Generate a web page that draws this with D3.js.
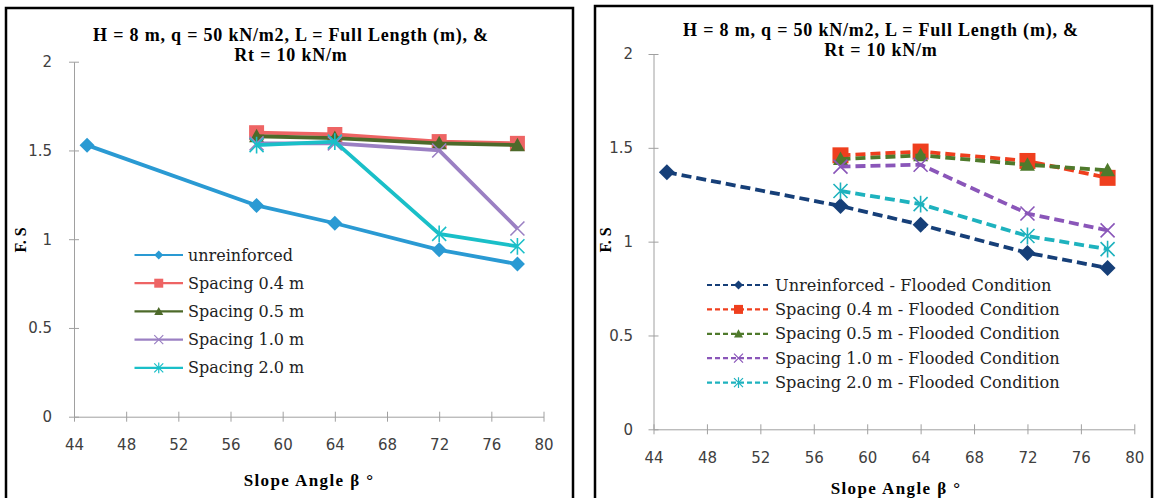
<!DOCTYPE html>
<html>
<head>
<meta charset="utf-8">
<script src="https://cdn.jsdelivr.net/npm/d3@7"></script>
<style>
  body { margin: 0; background: #fff; }
  svg { display: block; }
  .tick text { font-family: "DejaVu Sans", sans-serif; font-size: 15px; fill: #404040; }
  .domain, .tick line { stroke: #a0a0a0; }
</style>
</head>
<body>
<div class="chart"></div>
<script>
/* Main script */

// slope angles (deg)
var angles = [45, 58, 64, 72, 78];
var spacingAngles = [58, 64, 72, 78];
var xTicks = [44, 48, 52, 56, 60, 64, 68, 72, 76, 80];
var yTicks = [0, 0.5, 1, 1.5, 2];

// left chart: normal condition
var dryNames = ["unreinforced", "Spacing 0.4 m", "Spacing 0.5 m", "Spacing 1.0 m", "Spacing 2.0 m"];
var dryUnreinforced = [1.53, 1.19, 1.09, 0.94, 0.86];
var drySp04 = [1.60, 1.59, 1.55, 1.54];
var drySp05 = [1.58, 1.57, 1.54, 1.53];
var drySp10 = [1.54, 1.54, 1.50, 1.06];
var drySp20 = [1.53, 1.55, 1.03, 0.96];

// right chart: flooded condition
var wetNames = ["Unreinforced - Flooded Condition", "Spacing 0.4 m - Flooded Condition",
    "Spacing 0.5 m - Flooded Condition", "Spacing 1.0 m - Flooded Condition",
    "Spacing 2.0 m - Flooded Condition"];
var wetUnreinforced = [1.37, 1.19, 1.09, 0.94, 0.86];
var wetSp04 = [1.46, 1.48, 1.43, 1.34];
var wetSp05 = [1.44, 1.46, 1.41, 1.38];
var wetSp10 = [1.40, 1.41, 1.15, 1.06];
var wetSp20 = [1.27, 1.20, 1.03, 0.96];

var titleLines = ["H = 8 m, q = 50 kN/m2, L = Full Length (m), &", "Rt = 10 kN/m"];

var svg = d3.select(".chart")
    .append("svg")
    .attr("width", 1155)
    .attr("height", 498);

//marker shapes
function markerPath(kind, s) {
    var h = s / 2;
    if (kind === "diamond") return "M0," + (-h) + "L" + h + ",0L0," + h + "L" + (-h) + ",0Z";
    if (kind === "square") return "M" + (-h) + "," + (-h) + "h" + s + "v" + s + "h" + (-s) + "Z";
    if (kind === "triangle") return "M0," + (-h) + "L" + h + "," + (h * 0.8) + "L" + (-h) + "," + (h * 0.8) + "Z";
    if (kind === "x") return "M" + (-h) + "," + (-h) + "L" + h + "," + h + "M" + (-h) + "," + h + "L" + h + "," + (-h);
    // star: x plus vertical bar
    return "M" + (-h) + "," + (-h) + "L" + h + "," + h + "M" + (-h) + "," + h + "L" + h + "," + (-h) +
        "M0," + (-h * 1.2) + "L0," + (h * 1.2);
}
var kinds = ["diamond", "square", "triangle", "x", "star"];

function drawPanel(cfg) {
    var g = svg.append("g");

    g.append("rect")
        .attr("x", cfg.box[0]).attr("y", cfg.box[1])
        .attr("width", cfg.box[2]).attr("height", 520)
        .attr("fill", "none").attr("stroke", "#000").attr("stroke-width", 2.5);

    var x = d3.scaleLinear().domain([44, 80]).range(cfg.xr);
    var y = d3.scaleLinear().domain([0, 2]).range(cfg.yr);

    var xAxis = g.append("g")
        .attr("transform", "translate(0," + cfg.yr[0] + ")")
        .call(d3.axisBottom(x).tickValues(xTicks).tickSize(5).tickSizeOuter(0).tickPadding(18));
    xAxis.selectAll(".tick line").attr("y1", -5).attr("y2", 5);

    var yAxis = g.append("g")
        .attr("transform", "translate(" + cfg.xr[0] + ",0)")
        .call(d3.axisLeft(y).tickValues(yTicks).tickSize(5).tickSizeOuter(0).tickPadding(cfg.yPad)
            .tickFormat(d3.format("~g")));
    yAxis.selectAll(".tick line").attr("x1", -5).attr("x2", 5);

    // title
    g.selectAll(".title")
        .data(titleLines)
        .enter()
        .append("text")
        .attr("x", cfg.titleX)
        .attr("y", function (d, i) { return cfg.titleY + i * 20; })
        .attr("text-anchor", "middle")
        .style("font-family", "'Liberation Serif', serif")
        .style("font-weight", "bold")
        .style("font-size", "18px")
        .style("letter-spacing", "0.8px")
        .text(function (d) { return d; });

    g.append("text")
        .attr("x", cfg.xLabel[0]).attr("y", cfg.xLabel[1])
        .attr("text-anchor", "middle")
        .style("font-family", "'Liberation Serif', serif")
        .style("font-weight", "bold")
        .style("font-size", "17px")
        .style("letter-spacing", "1.4px")
        .text("Slope Angle β °");

    g.append("text")
        .attr("transform", "translate(" + cfg.yLabel[0] + "," + cfg.yLabel[1] + ") rotate(-90)")
        .attr("text-anchor", "middle")
        .style("font-family", "'Liberation Serif', serif")
        .style("font-weight", "bold")
        .style("font-size", "16px")
        .text("F. S");

    var line = d3.line()
        .x(function (d) { return x(d[0]); })
        .y(function (d) { return y(d[1]); });

    cfg.series.forEach(function (s, i) {
        var pts = s.vals.map(function (v, j) { return [s.xs[j], v]; });
        g.append("path")
            .attr("d", line(pts))
            .attr("fill", "none")
            .attr("stroke", cfg.colors[i])
            .attr("stroke-width", 3.8)
            .attr("stroke-dasharray", cfg.dash);
        var filled = kinds[i] !== "x" && kinds[i] !== "star";
        g.selectAll(".m" + i)
            .data(pts)
            .enter()
            .append("path")
            .attr("transform", function (d) { return "translate(" + x(d[0]) + "," + y(d[1]) + ")"; })
            .attr("d", markerPath(kinds[i], cfg.msize[i]))
            .attr("fill", filled ? cfg.colors[i] : "none")
            .attr("stroke", cfg.colors[i])
            .attr("stroke-width", filled ? 0 : 1.6);
    });

    //legend
    var leg = g.append("g");
    cfg.names.forEach(function (name, i) {
        var ly = cfg.legY + i * cfg.legStep;
        leg.append("line")
            .attr("x1", cfg.legX[0]).attr("x2", cfg.legX[1])
            .attr("y1", ly).attr("y2", ly)
            .attr("stroke", cfg.colors[i])
            .attr("stroke-width", 2.2)
            .attr("stroke-dasharray", cfg.legDash);
        var filled = kinds[i] !== "x" && kinds[i] !== "star";
        leg.append("path")
            .attr("transform", "translate(" + ((cfg.legX[0] + cfg.legX[1]) / 2) + "," + ly + ")")
            .attr("d", markerPath(kinds[i], 9))
            .attr("fill", filled ? cfg.colors[i] : "none")
            .attr("stroke", cfg.colors[i])
            .attr("stroke-width", filled ? 0 : 1.2);
        leg.append("text")
            .attr("x", cfg.legX[1] + 5)
            .attr("y", ly)
            .attr("dy", "0.35em")
            .style("font-family", "'DejaVu Serif', serif")
            .style("font-size", cfg.legFont)
            .style("fill", "#222")
            .text(name);
    });
}

drawPanel({
    box: [6, 8, 567],
    xr: [74, 543.5],
    yr: [416.7, 61.7],
    yPad: 17,
    titleX: 291, titleY: 41,
    xLabel: [309, 486],
    yLabel: [26, 240],
    colors: ["#2a9ad3", "#ee6464", "#4d6a2a", "#9b80c3", "#1abfc8"],
    dash: null,
    msize: [15, 15, 15, 14, 14],
    names: dryNames,
    series: [
        { xs: angles, vals: dryUnreinforced },
        { xs: spacingAngles, vals: drySp04 },
        { xs: spacingAngles, vals: drySp05 },
        { xs: spacingAngles, vals: drySp10 },
        { xs: spacingAngles, vals: drySp20 }
    ],
    legX: [134.5, 183], legY: 255, legStep: 28.2, legDash: null, legFont: "16px"
});

drawPanel({
    box: [595, 6, 557],
    xr: [653.5, 1134.3],
    yr: [429.3, 54],
    yPad: 15.5,
    titleX: 881, titleY: 36,
    xLabel: [896, 494],
    yLabel: [611, 240],
    colors: ["#163f78", "#ef3f1e", "#4f7a2c", "#8a56b9", "#1eb2be"],
    dash: "10,5",
    msize: [16, 16, 15, 14, 14],
    names: wetNames,
    series: [
        { xs: angles, vals: wetUnreinforced },
        { xs: spacingAngles, vals: wetSp04 },
        { xs: spacingAngles, vals: wetSp05 },
        { xs: spacingAngles, vals: wetSp10 },
        { xs: spacingAngles, vals: wetSp20 }
    ],
    legX: [707, 770], legY: 285, legStep: 24.4, legDash: "5,3", legFont: "16.2px"
});
</script>
</body>
</html>
